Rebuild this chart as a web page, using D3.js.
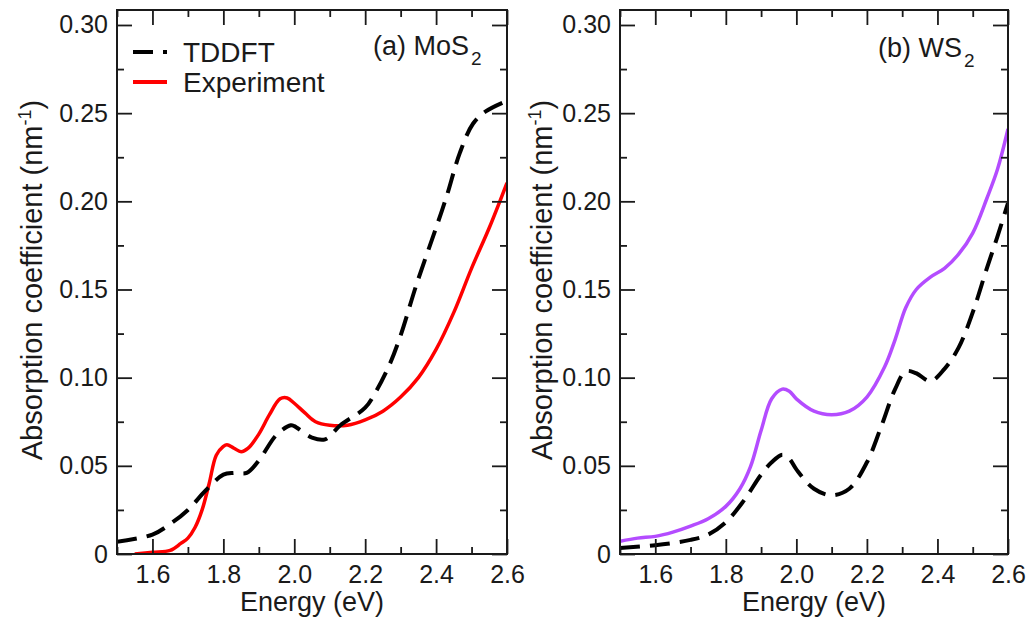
<!DOCTYPE html>
<html>
<head>
<meta charset="utf-8">
<script src="https://cdn.jsdelivr.net/npm/d3@7"></script>
<style>
  html, body { margin: 0; padding: 0; background: #fff; }
  svg { display: block; }
  text { font-family: "Liberation Sans", Arial, Helvetica, sans-serif; fill: #1a1a1a; }
</style>
</head>
<body>
<svg id="chart" width="1036" height="620"></svg>
<script>
// ---------------- DATA ----------------
// (a) MoS2
const mosTddftEnergy = [1.50,1.60,1.65,1.70,1.75,1.80,1.83,1.866,1.90,1.95,1.99,2.00,2.05,2.087,2.13,2.20,2.23,2.27,2.30,2.345,2.40,2.43,2.467,2.504,2.54,2.60];
const mosTddft       = [0.007,0.011,0.017,0.025,0.036,0.045,0.046,0.046,0.053,0.0676,0.073,0.0725,0.066,0.065,0.073,0.083,0.092,0.108,0.124,0.153,0.185,0.203,0.2275,0.244,0.251,0.257];
const mosExpEnergy   = [1.55,1.60,1.65,1.68,1.70,1.72,1.74,1.76,1.78,1.80,1.81,1.83,1.85,1.87,1.90,1.93,1.96,1.98,2.00,2.03,2.06,2.10,2.15,2.20,2.25,2.30,2.35,2.40,2.45,2.50,2.55,2.60];
const mosExp         = [0.000,0.001,0.002,0.006,0.009,0.015,0.025,0.040,0.056,0.061,0.062,0.060,0.058,0.060,0.068,0.079,0.088,0.0885,0.0855,0.080,0.075,0.073,0.073,0.076,0.081,0.089,0.100,0.116,0.137,0.162,0.185,0.2105];
// (b) WS2
const wsTddftEnergy  = [1.50,1.60,1.70,1.75,1.80,1.85,1.90,1.93,1.96,1.98,2.00,2.05,2.10,2.15,2.20,2.24,2.28,2.31,2.34,2.38,2.42,2.46,2.50,2.54,2.57,2.60];
const wsTddft        = [0.0034,0.005,0.008,0.011,0.018,0.030,0.045,0.052,0.0563,0.054,0.048,0.037,0.0333,0.037,0.052,0.072,0.0935,0.1036,0.1025,0.098,0.105,0.117,0.137,0.162,0.180,0.199];
const wsExpEnergy    = [1.50,1.55,1.60,1.65,1.70,1.75,1.80,1.84,1.87,1.90,1.93,1.96,1.98,2.00,2.05,2.10,2.15,2.20,2.25,2.28,2.31,2.34,2.38,2.42,2.46,2.50,2.54,2.57,2.60];
const wsExp          = [0.0072,0.009,0.010,0.0124,0.0158,0.020,0.027,0.037,0.0495,0.070,0.088,0.0935,0.0923,0.088,0.081,0.079,0.081,0.089,0.106,0.1216,0.1396,0.150,0.157,0.162,0.170,0.182,0.2016,0.218,0.241];

const xMajorTicks = [1.6, 1.8, 2.0, 2.2, 2.4, 2.6];
const xMinorTicks = [1.5, 1.7, 1.9, 2.1, 2.3, 2.5];
const yMajorTicks = [0, 0.05, 0.10, 0.15, 0.20, 0.25, 0.30];
const yTickLabels = ["0", "0.05", "0.10", "0.15", "0.20", "0.25", "0.30"];
const yMinorTicks = [0.025, 0.075, 0.125, 0.175, 0.225, 0.275];
const seriesNames = ["TDDFT", "Experiment"];

// ---------------- DRAW ----------------
const svg = d3.select("#chart");
svg.append("rect").attr("width", 1036).attr("height", 620).attr("fill", "#fff");

const TOP = 10, BOTTOM = 554;

function panel(cfg) {
  const g = svg.append("g");
  const x = d3.scaleLinear().domain([1.5, 2.6]).range([cfg.left, cfg.right]);
  const y = d3.scaleLinear().domain([0, 0.3085]).range([BOTTOM, TOP]);

  const clipId = "clip" + cfg.id;
  svg.append("clipPath").attr("id", clipId)
    .append("rect").attr("x", cfg.left).attr("y", TOP)
    .attr("width", cfg.right - cfg.left).attr("height", BOTTOM - TOP);

  const line = d3.line().x(d => x(d[0])).y(d => y(d[1])).curve(d3.curveCatmullRom.alpha(0.5));

  const plot = g.append("g").attr("clip-path", `url(#${clipId})`);
  plot.append("path")
    .attr("d", line(d3.zip(cfg.expE, cfg.expV)))
    .attr("fill", "none").attr("stroke", cfg.expColor).attr("stroke-width", 3.5)
    .attr("stroke-linejoin", "round");
  plot.append("path")
    .attr("d", line(d3.zip(cfg.tdE, cfg.tdV)))
    .attr("fill", "none").attr("stroke", "#000").attr("stroke-width", 4)
    .attr("stroke-dasharray", "20,10");

  const styleAxis = sel => {
    sel.select(".domain").remove();
    sel.selectAll(".tick line").attr("stroke", "#1a1a1a").attr("stroke-width", 1.8);
    sel.selectAll("text").attr("font-size", 25).attr("fill", "#1a1a1a")
      .attr("font-family", '"Liberation Sans", Arial, Helvetica, sans-serif');
  };

  // bottom
  g.append("g").attr("transform", `translate(0,${BOTTOM})`)
    .call(d3.axisBottom(x).tickValues(xMajorTicks).tickFormat(d3.format(".1f")).tickSize(-15).tickPadding(11))
    .call(styleAxis);
  g.append("g").attr("transform", `translate(0,${BOTTOM})`)
    .call(d3.axisBottom(x).tickValues(xMinorTicks).tickFormat("").tickSize(-7))
    .call(styleAxis);
  // top
  g.append("g").attr("transform", `translate(0,${TOP})`)
    .call(d3.axisTop(x).tickValues(xMajorTicks).tickFormat("").tickSize(-15))
    .call(styleAxis);
  g.append("g").attr("transform", `translate(0,${TOP})`)
    .call(d3.axisTop(x).tickValues(xMinorTicks).tickFormat("").tickSize(-7))
    .call(styleAxis);
  // left
  g.append("g").attr("transform", `translate(${cfg.left},0)`)
    .call(d3.axisLeft(y).tickValues(yMajorTicks).tickFormat((d, i) => yTickLabels[i]).tickSize(-15).tickPadding(9))
    .call(styleAxis);
  g.append("g").attr("transform", `translate(${cfg.left},0)`)
    .call(d3.axisLeft(y).tickValues(yMinorTicks).tickFormat("").tickSize(-7))
    .call(styleAxis);
  // right
  g.append("g").attr("transform", `translate(${cfg.right},0)`)
    .call(d3.axisRight(y).tickValues(yMajorTicks).tickFormat("").tickSize(-15))
    .call(styleAxis);
  g.append("g").attr("transform", `translate(${cfg.right},0)`)
    .call(d3.axisRight(y).tickValues(yMinorTicks).tickFormat("").tickSize(-7))
    .call(styleAxis);

  // frame
  g.append("rect").attr("x", cfg.left).attr("y", TOP)
    .attr("width", cfg.right - cfg.left).attr("height", BOTTOM - TOP)
    .attr("fill", "none").attr("stroke", "#1a1a1a").attr("stroke-width", 2);

  // x title
  g.append("text").attr("x", (cfg.left + cfg.right) / 2).attr("y", 611)
    .attr("text-anchor", "middle").attr("font-size", 27).text("Energy (eV)");

  // y title
  const yt = g.append("text")
    .attr("transform", `translate(${cfg.yTitleX},280) rotate(-90)`)
    .attr("text-anchor", "middle").attr("font-size", 29);
  yt.append("tspan").text("Absorption coefficient (nm");
  yt.append("tspan").attr("font-size", 18).attr("dy", -11).text("-1");
  yt.append("tspan").attr("dy", 11).text(")");

  // panel label
  const pl = g.append("text").attr("x", cfg.labelX).attr("y", cfg.labelY).attr("font-size", 27);
  pl.append("tspan").text(cfg.label);
  pl.append("tspan").attr("font-size", 19).attr("dx", 2).attr("dy", 10).text("2");

  return { x, y, g };
}

panel({
  id: "a", left: 117, right: 507, yTitleX: 42,
  tdE: mosTddftEnergy, tdV: mosTddft, expE: mosExpEnergy, expV: mosExp,
  expColor: "#ff0000", label: "(a) MoS", labelX: 373, labelY: 55
});
panel({
  id: "b", left: 620, right: 1008, yTitleX: 552,
  tdE: wsTddftEnergy, tdV: wsTddft, expE: wsExpEnergy, expV: wsExp,
  expColor: "#b44cff", label: "(b) WS", labelX: 878, labelY: 57
});

// legend (panel a)
const legend = svg.append("g");
const legendItems = [
  { name: seriesNames[0], color: "#000", dash: "20,10", width: 4, y: 52 },
  { name: seriesNames[1], color: "#ff0000", dash: null, width: 4, y: 82 }
];
legendItems.forEach(it => {
  legend.append("line").attr("x1", 133).attr("x2", 167).attr("y1", it.y).attr("y2", it.y)
    .attr("stroke", it.color).attr("stroke-width", it.width)
    .attr("stroke-dasharray", it.dash);
  legend.append("text").attr("x", 183).attr("y", it.y + 10).attr("font-size", 28).text(it.name);
});
</script>
</body>
</html>
